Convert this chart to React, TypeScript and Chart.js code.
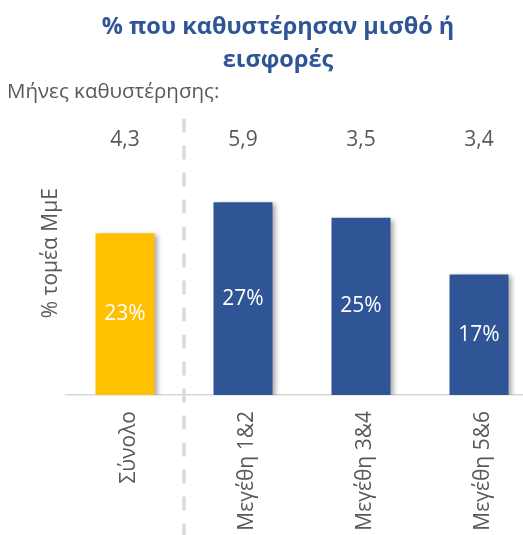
import React, { useEffect, useRef } from "react";
import { Chart, registerables } from "chart.js";

Chart.register(...registerables);

const categories = ["Σύνολο", "Μεγέθη 1&2", "Μεγέθη 3&4", "Μεγέθη 5&6"];
const shares = [22.8, 27.2, 25.0, 17.0];
const delayMonths = ["4,3", "5,9", "3,5", "3,4"];
const barColors = ["#FFC000", "#2F5597", "#2F5597", "#2F5597"];
const titleLines = ["% που καθυστέρησαν μισθό ή", "εισφορές"];
const subtitleText = "Μήνες καθυστέρησης:";
const yTitle = "% τομέα ΜμΕ";

const FONT = "'Open Sans', 'DejaVu Sans', sans-serif";
const GRAY = "#595959";

const overlayPlugin = {
  id: "overlay",
  beforeDatasetsDraw(chart: any) {
    const ctx = chart.ctx;
    ctx.save();
    ctx.shadowColor = "rgba(0,0,0,0.35)";
    ctx.shadowOffsetX = 3;
    ctx.shadowOffsetY = 2;
    ctx.shadowBlur = 5;
  },
  afterDatasetsDraw(chart: any) {
    const ctx = chart.ctx;
    ctx.restore();
    const x = chart.scales.x;
    const y = chart.scales.y;
    // separator dashed line
    const sepX = (x.getPixelForValue(0) + x.getPixelForValue(1)) / 2;
    ctx.save();
    ctx.strokeStyle = "#D9D9D9";
    ctx.lineWidth = 3.5;
    ctx.setLineDash([14, 13]);
    ctx.beginPath();
    ctx.moveTo(sepX, chart.chartArea.top + 7);
    ctx.lineTo(sepX, chart.height);
    ctx.stroke();
    ctx.restore();
    // value labels inside bars
    const meta = chart.getDatasetMeta(0);
    ctx.save();
    ctx.fillStyle = "#FFFFFF";
    ctx.font = `21px ${FONT}`;
    ctx.textAlign = "center";
    ctx.textBaseline = "middle";
    meta.data.forEach((bar: any, i: number) => {
      const cy = (bar.y + bar.base) / 2;
      ctx.fillText(`${Math.round(shares[i])}%`, bar.x, cy);
    });
    // months row
    ctx.fillStyle = GRAY;
    const rowY = y.getPixelForValue(36);
    delayMonths.forEach((t, i) => {
      ctx.fillText(t, x.getPixelForValue(i), rowY);
    });
    ctx.restore();
  },
};

export default function App() {
  const ref = useRef<HTMLCanvasElement>(null);
  useEffect(() => {
    if (!ref.current) return;
    const chart = new Chart(ref.current, {
      type: "bar",
      data: {
        labels: categories,
        datasets: [
          {
            data: shares,
            backgroundColor: barColors,
            borderWidth: 0,
            categoryPercentage: 1,
            barPercentage: 0.5,
          },
        ],
      },
      options: {
        animation: false,
        responsive: false,
        layout: { padding: { left: 7, right: 0, top: 0, bottom: 0 } },
        plugins: {
          legend: { display: false },
          tooltip: { enabled: false },
          title: {
            display: true,
            text: titleLines,
            color: "#2F5597",
            font: { family: FONT, size: 23.5, weight: "bold", lineHeight: 1.4 },
            padding: { top: 11, bottom: 3 },
          },
          subtitle: {
            display: true,
            text: subtitleText,
            align: "start",
            color: GRAY,
            font: { family: FONT, size: 20.5, lineHeight: 1.2 },
            padding: { top: 0, bottom: 7 },
          },
        },
        scales: {
          x: {
            type: "category",
            position: "bottom",
            grid: { display: false, drawTicks: false },
            border: { display: true, color: "#D9D9D9", width: 1.5 },
            ticks: {
              color: GRAY,
              font: { family: FONT, size: 21 },
              minRotation: 90,
              maxRotation: 90,
              autoSkip: false,
              padding: 16,
              labelOffset: 4,
            },
            afterFit: (axis: any) => {
              axis.height = 140;
            },
          },
          y: {
            position: "left",
            min: 0,
            max: 40,
            grid: { display: false },
            border: { display: false },
            ticks: { display: false },
            title: {
              display: true,
              text: yTitle,
              color: GRAY,
              font: { family: FONT, size: 21, lineHeight: 1.2 },
              padding: { top: 31, bottom: 0 },
            },
            afterFit: (axis: any) => {
              axis.width = 59;
            },
          },
          y2: {
            position: "right",
            display: true,
            grid: { display: false },
            border: { display: false },
            ticks: { display: false },
            afterFit: (axis: any) => {
              axis.width = 11;
            },
          },
        },
      },
      plugins: [overlayPlugin],
    });
    return () => chart.destroy();
  }, []);
  return (
    <div
      style={{
        position: "fixed",
        left: 0,
        top: 0,
        width: 523,
        height: 535,
        overflow: "hidden",
        background: "#FFFFFF",
      }}
    >
      <canvas ref={ref} width={549} height={535} style={{ width: 549, height: 535, display: "block" }} />
    </div>
  );
}
